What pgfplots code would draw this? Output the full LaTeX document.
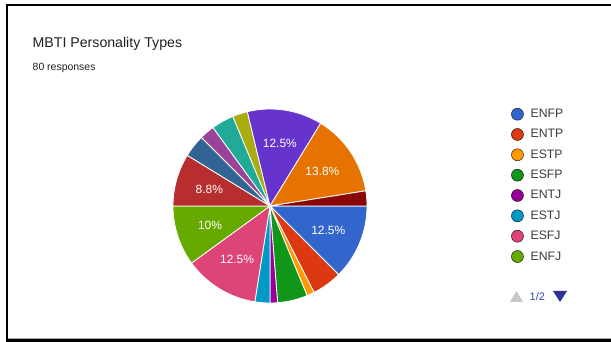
\documentclass[border=0pt]{standalone}
\usepackage{pgfplots}
\pgfplotsset{compat=1.18}
\usepackage{pgfplotstable}
\usepackage{fontspec}
\setmainfont{Liberation Sans}

\definecolor{c0}{HTML}{3366CC}
\definecolor{c1}{HTML}{DC3912}
\definecolor{c2}{HTML}{FF9900}
\definecolor{c3}{HTML}{109618}
\definecolor{c4}{HTML}{990099}
\definecolor{c5}{HTML}{0099C6}
\definecolor{c6}{HTML}{DD4477}
\definecolor{c7}{HTML}{66AA00}
\definecolor{c8}{HTML}{B82E2E}
\definecolor{c9}{HTML}{316395}
\definecolor{c10}{HTML}{994499}
\definecolor{c11}{HTML}{22AA99}
\definecolor{c12}{HTML}{AAAA11}
\definecolor{c13}{HTML}{6633CC}
\definecolor{c14}{HTML}{E67300}
\definecolor{c15}{HTML}{8B0707}
\definecolor{titlegray}{HTML}{202124}
\definecolor{leggray}{HTML}{3C3C3C}
\definecolor{pageblue}{HTML}{3949AB}
\definecolor{pagenavy}{HTML}{283593}
\definecolor{pagegray}{HTML}{C8C8C8}

% responses per type, clockwise from 3 o'clock
\pgfplotstableread{
count
10
4
1
4
1
2
10
8
7
3
2
3
2
10
11
2
}\mbti

\begin{document}
\begin{tikzpicture}
\useasboundingbox (0bp,0bp) rectangle (611bp,342bp);
\fill[white] (0bp,0bp) rectangle (611bp,342bp);
% frame
\fill[black] (6bp,0bp) rectangle (8bp,338bp);
\fill[black] (6bp,336bp) rectangle (611bp,338bp);
\fill[black] (6bp,0.5bp) rectangle (611bp,2.5bp);
\fill[black!35] (8bp,2.5bp) rectangle (611bp,3.5bp);

% titles
\node[anchor=base west, inner sep=0pt, text=titlegray, font=\fontsize{14.2}{16}\selectfont] at (32.5bp,294.3bp) {MBTI Personality Types};
\node[anchor=base west, inner sep=0pt, text=titlegray, font=\fontsize{10.5}{12}\selectfont] at (32.5bp,271bp) {80 responses};

% precompute angles
\pgfplotstablegetrowsof{\mbti}
\pgfmathtruncatemacro\nlast{\pgfplotsretval-1}
\gdef\total{0}
\pgfplotsforeachungrouped \i in {0,...,\nlast}{%
  \pgfplotstablegetelem{\i}{count}\of\mbti
  \pgfmathsetmacro\tmp{\total+\pgfplotsretval}%
  \xdef\total{\tmp}%
}
\gdef\cum{0}
\pgfplotsforeachungrouped \i in {0,...,\nlast}{%
  \pgfplotstablegetelem{\i}{count}\of\mbti
  \let\cnt\pgfplotsretval
  \pgfmathsetmacro\sa{-(\cum/\total)*360}%
  \pgfmathsetmacro\newcum{\cum+\cnt}%
  \pgfmathsetmacro\ea{-(\newcum/\total)*360}%
  \pgfmathsetmacro\ma{(\sa+\ea)/2}%
  \pgfmathsetmacro\pc{round(\cnt*1000/\total)/10}%
  \pgfmathsetmacro\lx{0.65*cos(\ma)}%
  \pgfmathsetmacro\ly{0.65*sin(\ma)}%
  \pgfmathtruncatemacro\sh{\pc>=8 ? 1 : 0}%
  \expandafter\xdef\csname sa\i\endcsname{\sa}%
  \expandafter\xdef\csname ea\i\endcsname{\ea}%
  \expandafter\xdef\csname pc\i\endcsname{\pc}%
  \expandafter\xdef\csname lx\i\endcsname{\lx}%
  \expandafter\xdef\csname ly\i\endcsname{\ly}%
  \expandafter\xdef\csname sh\i\endcsname{\sh}%
  \xdef\cum{\newcum}%
}

\begin{axis}[
  at={(270bp,136bp)}, anchor=origin,
  x=97bp, y=97bp,
  xmin=-1, xmax=1, ymin=-1, ymax=1,
  hide axis, clip=false,
  legend image code/.code={\fill[#1] (6bp,0bp) circle (6bp); \path (0bp,0bp) (17bp,0bp);},
  legend cell align=left,
  legend style={
    at={(axis cs:2.485,1.02)}, anchor=north west,
    draw=none, fill=none, inner sep=0pt,
    font=\fontsize{12.3}{14}\selectfont, text=leggray,
    row sep=6.35bp,
  },
]
\pgfplotsforeachungrouped \i in {0,...,\nlast}{%
  \edef\temp{\noexpand\fill[fill=c\i, draw=white, line width=0.8bp]
    (axis cs:0,0) -- ++(\csname sa\i\endcsname:97bp)
    arc[start angle=\csname sa\i\endcsname, end angle=\csname ea\i\endcsname, radius=97bp] -- cycle;}%
  \temp
}
\pgfplotsforeachungrouped \i in {0,...,\nlast}{%
  \ifnum\csname sh\i\endcsname=1
    \edef\temp{\noexpand\node[text=white, font=\noexpand\fontsize{12}{14}\noexpand\selectfont]
      at (axis cs:\csname lx\i\endcsname,\csname ly\i\endcsname)
      {\noexpand\pgfmathprintnumber[fixed, precision=1, assume math mode=true]{\csname pc\i\endcsname}\noexpand\%};}%
    \temp
  \fi
}
\addlegendimage{fill=c0}\addlegendentry{ENFP}
\addlegendimage{fill=c1}\addlegendentry{ENTP}
\addlegendimage{fill=c2}\addlegendentry{ESTP}
\addlegendimage{fill=c3}\addlegendentry{ESFP}
\addlegendimage{fill=c4}\addlegendentry{ENTJ}
\addlegendimage{fill=c5}\addlegendentry{ESTJ}
\addlegendimage{fill=c6}\addlegendentry{ESFJ}
\addlegendimage{fill=c7}\addlegendentry{ENFJ}
\end{axis}

% legend pager
\fill[pagegray] (510bp,40bp) -- (523bp,40bp) -- (516.5bp,51bp) -- cycle;
\node[anchor=west, inner sep=0pt, text=pageblue, font=\fontsize{11}{13}\selectfont] at (529.5bp,45bp) {1/2};
\fill[pagenavy] (553bp,51bp) -- (567bp,51bp) -- (560bp,40bp) -- cycle;
\end{tikzpicture}
\end{document}
